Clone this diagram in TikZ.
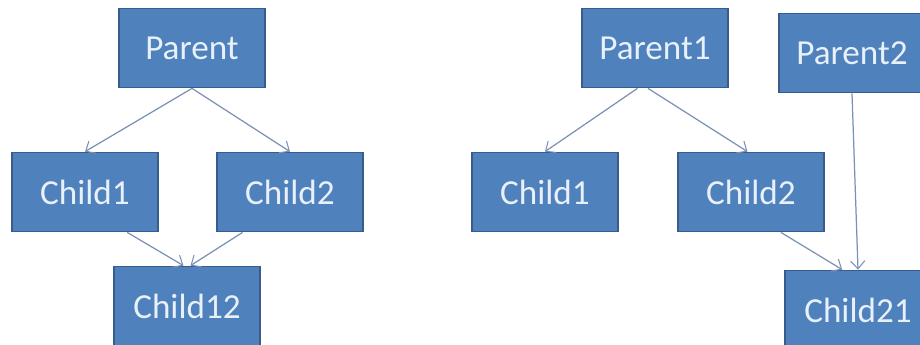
\documentclass[tikz,border=0pt]{standalone}
\usepackage{fontspec}
\setmainfont{Carlito}
\usetikzlibrary{arrows.meta}
\definecolor{BoxBlue}{HTML}{4F81BD}
\definecolor{BoxEdge}{HTML}{385D8A}
\definecolor{BoxText}{HTML}{E8F0FA}
\definecolor{LinkBlue}{HTML}{7A91B5}

\begin{document}
\begin{tikzpicture}[x=0.02cm,y=-0.02cm,
    box/.style={draw=BoxEdge,line width=1pt,fill=BoxBlue,text=BoxText,
      minimum width=2.92cm,minimum height=1.58cm,inner sep=0pt,
      font=\fontsize{20}{24}\selectfont},
    link/.style={draw=LinkBlue,line width=0.7pt,
      -{Straight Barb[length=4.5pt,width=8pt,line width=0.6pt]}}]
    \useasboundingbox (0,0) rectangle (920,345);
    \clip (0,0) rectangle (920,345);
    % left tree
    \node[box] (parent) at (192,48) {Parent};
    \node[box] (childA) at (85,192) {Child1};
    \node[box] (childB) at (290,192) {Child2};
    \node[box] (childAB) at (187,306) {Child12};
    \draw[link] (parent.south) -- (childA.north);
    \draw[link] (parent.south) -- (childB.north);
    \draw[link] ([xshift=24pt]childA.south) -- ([xshift=-2pt]childAB.north);
    \draw[link] ([xshift=-27pt]childB.south) -- ([xshift=2pt]childAB.north);
    % right tree
    \node[box] (parentA) at (655,48) {Parent1};
    \node[box] (parentB) at (852,53) {Parent2};
    \node[box] (childC) at (545,192) {Child1};
    \node[box] (childD) at (751,192) {Child2};
    \node[box] (childDB) at (858,310) {Child21};
    \draw[link] ([xshift=-10pt]parentA.south) -- (childC.north);
    \draw[link] ([xshift=-4pt]parentA.south) -- ([xshift=-2pt]childD.north);
    \draw[link] ([xshift=17pt]childD.south) -- ([xshift=-9pt]childDB.north);
    \draw[link] (parentB.south) -- (childDB.north);
\end{tikzpicture}
\end{document}
